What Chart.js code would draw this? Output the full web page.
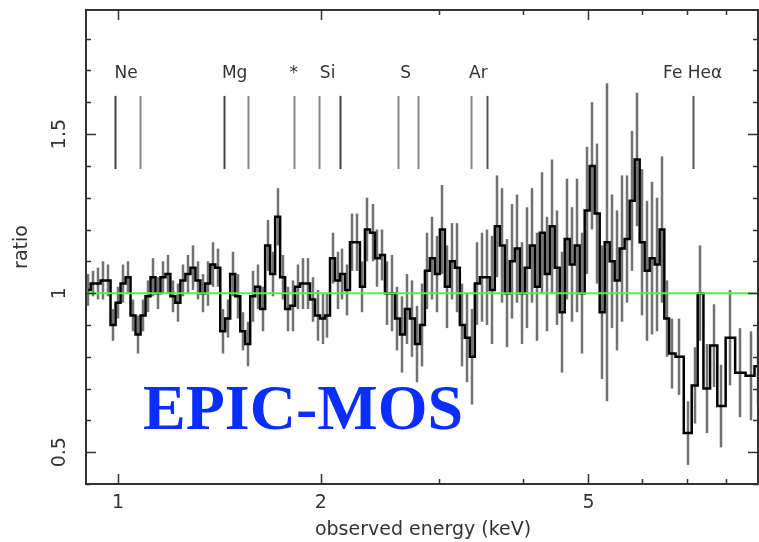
<!DOCTYPE html>
<html>
<head>
<meta charset="utf-8">
<script src="https://cdn.jsdelivr.net/npm/chart.js@4"></script>
<style>
  html, body { margin: 0; padding: 0; background: #fff; }
  canvas { display: block; }
</style>
</head>
<body>
<canvas id="chart" width="759" height="542"></canvas>
<script>
// Données (rapport données/modèle, EPIC-MOS)
const energies = [0.903,0.918,0.934,0.950,0.966,0.983,1.000,1.017,1.035,1.052,1.071,1.089,1.108,1.127,1.146,1.166,1.186,1.206,1.227,1.248,
  1.270,1.292,1.314,1.336,1.359,1.383,1.406,1.431,1.455,1.480,1.506,1.532,1.558,1.585,1.612,1.640,1.668,1.697,1.726,1.756,
  1.786,1.817,1.848,1.880,1.912,1.945,1.979,2.013,2.047,2.083,2.119,2.155,2.192,2.230,2.268,2.307,2.347,2.388,2.429,2.471,
  2.513,2.557,2.601,2.646,2.691,2.737,2.785,2.833,2.881,2.931,2.981,3.033,3.085,3.138,3.192,3.247,3.303,3.360,3.418,3.477,
  3.537,3.598,3.660,3.723,3.787,3.852,3.919,3.986,4.055,4.125,4.196,4.268,4.342,4.416,4.493,4.570,4.649,4.729,4.810,4.893,
  4.978,5.063,5.151,5.240,5.330,5.422,5.515,5.610,5.707,5.806,5.906,6.008,6.111,6.217,6.324,6.433,
  6.53,6.649,6.82,7.036,7.20,7.33,7.49,7.67,7.87,8.12,8.40,8.72,8.93];

const ratios = [1.01,1.03,1.03,1.04,1.04,0.90,0.97,1.03,1.05,0.93,0.87,0.93,0.99,1.05,1.00,1.05,1.06,0.99,0.97,1.04,
  1.06,1.08,1.04,1.00,1.03,1.09,1.08,0.88,0.92,1.06,0.99,0.88,0.84,0.99,1.02,0.95,1.15,1.06,1.24,1.05,
  0.95,0.96,1.02,1.03,1.03,0.98,0.93,0.92,0.93,1.11,1.04,1.06,1.01,1.16,1.16,1.02,1.20,1.19,1.11,1.12,
  1.00,1.00,0.92,0.87,0.95,0.92,0.84,0.90,1.07,1.11,1.06,1.20,1.02,1.10,1.08,0.90,0.86,0.80,1.03,1.05,
  1.05,1.01,1.21,1.15,1.00,1.10,1.14,1.00,1.08,1.15,1.02,1.19,1.06,1.21,1.08,0.94,1.17,1.09,1.15,1.00,
  1.26,1.40,1.25,0.94,1.16,1.10,1.04,1.14,1.17,1.29,1.42,1.16,1.07,1.11,1.09,1.20,
  0.92,0.81,0.80,0.56,0.71,1.00,0.70,0.835,0.645,0.86,0.75,0.74,0.77];

const errors = [0.05,0.04,0.05,0.06,0.05,0.05,0.05,0.06,0.05,0.05,0.06,0.05,0.05,0.06,0.05,0.05,0.06,0.05,0.06,0.05,
  0.06,0.07,0.06,0.06,0.07,0.07,0.06,0.07,0.06,0.07,0.07,0.06,0.07,0.08,0.07,0.07,0.08,0.07,0.09,0.07,
  0.07,0.08,0.07,0.08,0.08,0.07,0.08,0.08,0.07,0.08,0.09,0.08,0.08,0.09,0.09,0.08,0.10,0.09,0.09,0.08,
  0.10,0.12,0.10,0.12,0.11,0.12,0.12,0.13,0.12,0.13,0.12,0.14,0.13,0.12,0.14,0.13,0.14,0.15,0.13,0.14,
  0.15,0.17,0.16,0.18,0.17,0.18,0.17,0.16,0.19,0.18,0.17,0.19,0.18,0.21,0.18,0.19,0.19,0.18,0.21,0.19,
  0.20,0.20,0.22,0.21,0.50,0.21,0.22,0.23,0.20,0.22,0.21,0.23,0.22,0.24,0.21,0.23,
  0.12,0.11,0.12,0.10,0.12,0.15,0.14,0.13,0.13,0.15,0.14,0.14,0.12];

// Raies identifiées
const lineEnergies = [0.99, 1.078, 1.437, 1.559, 1.824, 1.987, 2.134, 2.61, 2.786, 3.34, 3.53, 7.14];
const lineTop = 1.62;
const lineBottom = 1.39;
const labelTexts = ['Ne', 'Mg', '*', 'Si', 'S', 'Ar', 'Fe Heα'];
const labelEnergies = [1.028, 1.49, 1.824, 2.048, 2.675, 3.43, 7.14];
const labelLevel = 1.69;

// Axes
const xMin = 0.896, xMax = 8.93;
const yMin = 0.40, yMax = 1.89;
const xMajor = [1, 2, 5];
const xMinor = [3, 4, 6, 7, 8];
const yMajor = [0.5, 1, 1.5];
const yMinor = [0.4, 0.6, 0.7, 0.8, 0.9, 1.1, 1.2, 1.3, 1.4, 1.6, 1.7, 1.8];

const lineColors = ['#444', '#888', '#444', '#888', '#888', '#888', '#444', '#888', '#888', '#888', '#555', '#555'];
const textFont = '"DejaVu Sans", sans-serif';

// Barres d'erreur (sous la courbe en escalier)
const errorBars = {
  id: 'errorBars',
  beforeDatasetsDraw(chart) {
    const { ctx, chartArea, scales: { x, y } } = chart;
    ctx.save();
    ctx.beginPath();
    ctx.rect(chartArea.left, chartArea.top, chartArea.right - chartArea.left, chartArea.bottom - chartArea.top);
    ctx.clip();
    ctx.strokeStyle = 'rgba(60,60,60,0.72)';
    ctx.lineWidth = 2.5;
    energies.forEach((e, i) => {
      const px = Math.round(x.getPixelForValue(e));
      ctx.beginPath();
      ctx.moveTo(px, y.getPixelForValue(ratios[i] - errors[i]));
      ctx.lineTo(px, y.getPixelForValue(ratios[i] + errors[i]));
      ctx.stroke();
    });
    ctx.restore();
  }
};

// Cadre, graduations, raies et textes
const frame = {
  id: 'frame',
  afterDraw(chart) {
    const { ctx, chartArea: a, scales: { x, y } } = chart;
    ctx.save();

    // raies
    ctx.lineWidth = 2;
    lineEnergies.forEach((e, i) => {
      const px = Math.round(x.getPixelForValue(e)) + 0.5;
      ctx.strokeStyle = lineColors[i];
      ctx.beginPath();
      ctx.moveTo(px, y.getPixelForValue(lineTop));
      ctx.lineTo(px, y.getPixelForValue(lineBottom));
      ctx.stroke();
    });
    ctx.fillStyle = '#333';
    ctx.font = '17px ' + textFont;
    ctx.textAlign = 'center';
    ctx.textBaseline = 'middle';
    labelTexts.forEach((t, i) => {
      ctx.fillText(t, x.getPixelForValue(labelEnergies[i]), y.getPixelForValue(labelLevel));
    });

    // cadre
    ctx.strokeStyle = '#333';
    ctx.lineWidth = 2;
    ctx.strokeRect(a.left, a.top, a.right - a.left, a.bottom - a.top);

    // graduations
    ctx.lineWidth = 1.5;
    const xTick = (v, len) => {
      const px = Math.round(x.getPixelForValue(v)) + 0.5;
      ctx.beginPath();
      ctx.moveTo(px, a.top); ctx.lineTo(px, a.top + len);
      ctx.moveTo(px, a.bottom); ctx.lineTo(px, a.bottom - len);
      ctx.stroke();
    };
    const yTick = (v, len) => {
      const py = Math.round(y.getPixelForValue(v)) + 0.5;
      ctx.beginPath();
      ctx.moveTo(a.left, py); ctx.lineTo(a.left + len, py);
      ctx.moveTo(a.right, py); ctx.lineTo(a.right - len, py);
      ctx.stroke();
    };
    xMajor.forEach(v => xTick(v, 10));
    xMinor.forEach(v => xTick(v, 5));
    yMajor.forEach(v => yTick(v, 10));
    yMinor.forEach(v => yTick(v, 5));

    // étiquettes
    ctx.fillStyle = '#333';
    ctx.font = '19px ' + textFont;
    ctx.textAlign = 'center';
    ctx.textBaseline = 'middle';
    xMajor.forEach(v => ctx.fillText(String(v), x.getPixelForValue(v), a.bottom + 19));
    ctx.fillText('observed energy (keV)', 423, a.bottom + 46);
    yMajor.forEach(v => {
      ctx.save();
      ctx.translate(a.left - 26, y.getPixelForValue(v));
      ctx.rotate(-Math.PI / 2);
      ctx.fillText(String(v), 0, 0);
      ctx.restore();
    });
    ctx.save();
    ctx.translate(22, 247);
    ctx.rotate(-Math.PI / 2);
    ctx.fillText('ratio', 0, 0);
    ctx.restore();

    // titre du détecteur
    ctx.fillStyle = 'rgb(10,46,255)';
    ctx.font = 'bold 64px "Liberation Serif", "Times New Roman", serif';
    ctx.textAlign = 'left';
    ctx.textBaseline = 'alphabetic';
    ctx.fillText('EPIC-MOS', 143, 429);

    ctx.restore();
  }
};

const ctx = document.getElementById('chart').getContext('2d');
new Chart(ctx, {
  type: 'line',
  data: {
    datasets: [{
      label: 'unity',
      data: [{ x: xMin, y: 1 }, { x: xMax, y: 1 }],
      borderColor: 'rgb(80,240,80)',
      borderWidth: 2,
      pointRadius: 0,
      order: 0
    }, {
      label: 'ratio',
      data: energies.map((e, i) => ({ x: e, y: ratios[i] })),
      stepped: 'middle',
      borderColor: '#000',
      borderWidth: 2.5,
      pointRadius: 0,
      order: 1
    }]
  },
  options: {
    responsive: false,
    animation: false,
    devicePixelRatio: 1,
    layout: { padding: { left: 86, top: 10, right: 1, bottom: 58 } },
    plugins: { legend: { display: false }, tooltip: { enabled: false } },
    scales: {
      x: { type: 'logarithmic', min: xMin, max: xMax, display: false },
      y: { type: 'linear', min: yMin, max: yMax, display: false }
    }
  },
  plugins: [errorBars, frame]
});
</script>
</body>
</html>
